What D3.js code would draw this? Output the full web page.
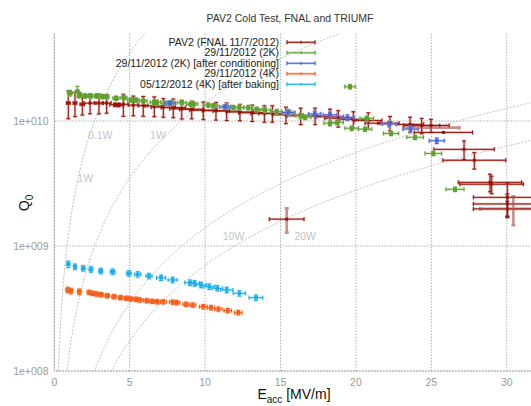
<!DOCTYPE html>
<html>
<head>
<meta charset="utf-8">
<script src="https://cdnjs.cloudflare.com/ajax/libs/d3/7.8.5/d3.min.js"></script>
<style>
  body { margin: 0; background: #fff; }
  svg { display: block; font-family: 'Liberation Sans', Arial, sans-serif; }
</style>
</head>
<body>
<svg id="chart" width="531" height="406"></svg>
<script>
// rows: [Eacc (MV/m), Q0, dEacc, relative dQ0]
const pav2Fnal = [
  [0.93, 1.39e10, 0.12, 0.25], [1.37, 1.39e10, 0.12, 0.22], [1.86, 1.36e10, 0.15, 0.18],
  [2.37, 1.39e10, 0.4, 0.18], [2.96, 1.39e10, 0.3, 0.18], [3.47, 1.39e10, 0.3, 0.17],
  [4.03, 1.35e10, 0.35, 0.03], [4.25, 1.34e10, 0.3, 0.03], [4.58, 1.36e10, 0.3, 0.2],
  [5.24, 1.34e10, 0.3, 0.18], [5.90, 1.33e10, 0.3, 0.18], [6.63, 1.32e10, 0.6, 0.18],
  [7.23, 1.29e10, 0.8, 0.17], [7.89, 1.28e10, 0.8, 0.17], [8.45, 1.25e10, 0.8, 0.17],
  [9.11, 1.24e10, 0.8, 0.16], [9.88, 1.22e10, 0.9, 0.16], [10.72, 1.21e10, 0.9, 0.16],
  [11.43, 1.20e10, 0.9, 0.16], [12.31, 1.18e10, 0.9, 0.15], [13.13, 1.165e10, 0.9, 0.15],
  [13.93, 1.15e10, 0.9, 0.15], [14.46, 1.15e10, 0.9, 0.15], [15.36, 1.12e10, 0.9, 0.15],
  [16.34, 1.10e10, 0.9, 0.15], [17.29, 1.10e10, 0.9, 0.15], [18.28, 1.08e10, 0.9, 0.15],
  [18.83, 1.05e10, 0.9, 0.15], [19.83, 1.03e10, 0.9, 0.15], [20.82, 1.01e10, 0.9, 0.15],
  [21.49, 9.6e9, 0.88, 0], [22.26, 9.6e9, 0.6, 0.13], [23.59, 9.4e9, 0.9, 0.14],
  [24.36, 9.2e9, 1.2, 0.14], [24.98, 9.2e9, 1.2, 0.12], [25.80, 8.1e9, 1.93, 0],
  [27.17, 5.93e9, 2.0, 0.17], [27.85, 4.85e9, 2.09, 0.15], [28.89, 3.23e9, 2.1, 0.16],
  [29.0, 3.12e9, 2.1, 0.16], [30.04, 2.45e9, 2.25, 0.3], [30.04, 2.17e9, 2.25, 0.2],
  [30.04, 1.98e9, 2.25, 0.15], [15.41, 1.64e9, 1.15, 0],
]
const pav2FnalFaint = [
  [15.41, 1.64e9, 0, 0.22], [25.0, 8.84e9, 1.86, 0], [30.44, 1.98e9, 2.2, 0.26],
]
const cold2K = [
  [1.04, 1.67e10, 0.15, 0.05], [1.53, 1.72e10, 0.12, 0.1], [1.70, 1.61e10, 0.12, 0.05],
  [2.04, 1.585e10, 0.15, 0.04], [2.41, 1.585e10, 0.15, 0.04], [2.81, 1.585e10, 0.15, 0.04],
  [3.18, 1.565e10, 0.15, 0.04], [3.47, 1.565e10, 0.15, 0.04], [4.09, 1.52e10, 0.2, 0.04],
  [4.62, 1.535e10, 0.2, 0.04], [5.07, 1.47e10, 0.2, 0.04], [5.42, 1.47e10, 0.2, 0.04],
  [5.90, 1.445e10, 0.25, 0.04], [6.61, 1.41e10, 0.25, 0.04], [6.79, 1.41e10, 0.25, 0.04],
  [7.39, 1.385e10, 0.25, 0.04], [7.79, 1.40e10, 0.25, 0.04], [8.45, 1.40e10, 0.3, 0.04],
  [9.06, 1.36e10, 0.3, 0.04], [9.22, 1.37e10, 0.3, 0.04], [10.21, 1.34e10, 0.3, 0.04],
  [10.54, 1.32e10, 0.3, 0.04], [11.43, 1.30e10, 0.3, 0.04], [11.87, 1.28e10, 0.3, 0.04],
  [12.27, 1.28e10, 0.3, 0.04], [12.86, 1.28e10, 0.3, 0.04], [13.42, 1.24e10, 0.35, 0.04],
  [13.97, 1.225e10, 0.35, 0.04], [14.75, 1.19e10, 0.35, 0.04], [15.63, 1.165e10, 0.35, 0.04],
  [16.41, 1.10e10, 0.4, 0.04], [16.63, 1.07e10, 0.4, 0.04], [18.28, 9.6e9, 0.4, 0.04],
  [18.77, 9.75e9, 0.4, 0.04], [19.61, 1.88e10, 0.35, 0.04], [19.72, 8.75e9, 0.45, 0.04],
  [20.60, 8.6e9, 0.45, 0.04], [20.72, 1.05e10, 0.45, 0.04], [22.33, 7.95e9, 0.5, 0.04],
  [23.92, 7.4e9, 0.55, 0.04], [25.13, 5.5e9, 0.55, 0.04], [26.57, 2.84e9, 0.6, 0.04],
]
const cold2KConditioned = [
  [7.67, 1.39e10, 0.35, 0.04], [11.32, 1.295e10, 0.35, 0.04], [15.5, 1.17e10, 0.4, 0.05],
  [17.27, 1.14e10, 0.4, 0.05], [18.28, 1.12e10, 0.45, 0.05], [19.44, 1.065e10, 0.45, 0.05],
  [22.2, 9.45e9, 0.45, 0.05], [23.62, 8.6e9, 0.5, 0.05], [25.36, 6.95e9, 0.5, 0.05],
]
const cold4K = [
  [0.89, 4.45e8, 0.12, 0.05], [1.11, 4.37e8, 0.12, 0.05], [1.66, 4.31e8, 0.12, 0.05],
  [2.32, 4.26e8, 0.15, 0.04], [2.55, 4.18e8, 0.15, 0.04], [2.81, 4.13e8, 0.15, 0.04],
  [3.10, 4.08e8, 0.15, 0.04], [3.51, 4.00e8, 0.15, 0.04], [3.96, 3.93e8, 0.15, 0.04],
  [4.40, 3.86e8, 0.15, 0.04], [4.80, 3.82e8, 0.15, 0.04], [5.07, 3.77e8, 0.2, 0.04],
  [5.42, 3.75e8, 0.2, 0.04], [5.68, 3.70e8, 0.2, 0.04], [6.13, 3.65e8, 0.2, 0.04],
  [6.50, 3.61e8, 0.2, 0.04], [6.83, 3.58e8, 0.2, 0.04], [7.23, 3.58e8, 0.2, 0.04],
  [7.85, 3.56e8, 0.2, 0.04], [8.12, 3.52e8, 0.2, 0.04], [8.73, 3.42e8, 0.2, 0.04],
  [9.18, 3.37e8, 0.2, 0.04], [9.88, 3.27e8, 0.25, 0.04], [10.39, 3.21e8, 0.25, 0.04],
  [10.88, 3.13e8, 0.25, 0.04], [11.50, 3.04e8, 0.25, 0.04], [12.20, 2.93e8, 0.25, 0.04],
]
const baked4K = [
  [0.93, 7.14e8, 0.1, 0.06], [1.37, 6.83e8, 0.1, 0.05], [1.92, 6.63e8, 0.12, 0.05],
  [2.43, 6.5e8, 0.12, 0.05], [3.08, 6.31e8, 0.12, 0.05], [3.87, 6.23e8, 0.15, 0.05],
  [4.95, 6.04e8, 0.15, 0.05], [5.53, 5.93e8, 0.2, 0.05], [6.28, 5.75e8, 0.2, 0.05],
  [7.08, 5.57e8, 0.3, 0.05], [7.85, 5.35e8, 0.3, 0.05], [9.0, 5.09e8, 0.35, 0.05],
  [9.29, 5.03e8, 0.35, 0.05], [9.73, 4.88e8, 0.35, 0.05], [10.28, 4.73e8, 0.35, 0.05],
  [10.81, 4.59e8, 0.35, 0.05], [11.43, 4.45e8, 0.4, 0.05], [12.27, 4.18e8, 0.4, 0.05],
  [13.37, 3.86e8, 0.45, 0.05],
]

const seriesNames = [
  'PAV2 (FNAL 11/7/2012)', '29/11/2012 (2K)', '29/11/2012 (2K) [after conditioning]',
  '29/11/2012 (4K)', '05/12/2012 (4K) [after baking]',
]
const xTicks = [0, 5, 10, 15, 20, 25, 30]
const yTicks = [1e8, 1e9, 1e10]
// constant dissipated power lines, Q0 = K * Eacc^2 / P
const powerLevels = [0.1, 1, 10, 20]
const powerK = 1.4e8
const powerLabels = [
  ['0.1W', 2.23, 7.2e9], ['1W', 6.35, 7.2e9], ['1W', 1.53, 3.25e9],
  ['10W', 11.17, 1.11e9], ['20W', 15.92, 1.11e9],
]

const svg = d3.select('#chart')
const x = d3.scaleLinear().domain([0, 32]).range([54.3, 536.9])
const y = d3.scaleLog().domain([1e8, 5e10]).range([371, 33.6])
const [plotLeft, plotRight] = x.range()
const [plotBottom, plotTop] = y.range()

svg.append('defs').append('clipPath').attr('id', 'plot')
  .append('rect')
  .attr('x', plotLeft).attr('y', plotTop)
  .attr('width', plotRight - plotLeft).attr('height', plotBottom - plotTop)

// grid
const grid = svg.append('g')
  .attr('stroke', '#a6a6a6')
  .attr('stroke-width', 0.9)
  .attr('stroke-dasharray', '1.5,1.5')
grid.selectAll('.vgrid')
  .data(xTicks.filter((d) => d > 0))
  .join('line')
  .attr('class', 'vgrid')
  .attr('x1', (d) => x(d)).attr('x2', (d) => x(d))
  .attr('y1', plotTop).attr('y2', plotBottom)
grid.selectAll('.hgrid')
  .data(yTicks.filter((d) => d > 1e8))
  .join('line')
  .attr('class', 'hgrid')
  .attr('x1', plotLeft).attr('x2', plotRight)
  .attr('y1', (d) => y(d)).attr('y2', (d) => y(d))

// border (left and bottom only)
svg.append('path')
  .attr('d', `M${plotLeft},${plotTop}V${plotBottom}H${plotRight}`)
  .attr('fill', 'none')
  .attr('stroke', '#8a8a8a')
  .attr('stroke-width', 1)
  .attr('stroke-dasharray', '2,1')

// power curves
const powerLine = d3.line().x((d) => x(d[0])).y((d) => y(d[1]))
const eSteps = d3.range(0.05, 32.01, 0.05)
svg.append('g')
  .attr('clip-path', 'url(#plot)')
  .selectAll('path')
  .data(powerLevels)
  .join('path')
  .attr('d', (p) => powerLine(eSteps.map((e) => [e, Math.max(1e6, powerK * e * e / p)])))
  .attr('fill', 'none')
  .attr('stroke', '#b4b4b4')
  .attr('stroke-width', 0.9)
  .attr('stroke-dasharray', '2,1.5')

svg.append('g')
  .selectAll('text')
  .data(powerLabels)
  .join('text')
  .attr('x', (d) => x(d[1]))
  .attr('y', (d) => y(d[2]))
  .attr('font-size', 10.5)
  .attr('fill', '#c4c4c4')
  .text((d) => d[0])

// tick labels
svg.append('g')
  .selectAll('text')
  .data(yTicks)
  .join('text')
  .attr('x', 48.5)
  .attr('y', (d) => y(d))
  .attr('dy', '0.35em')
  .attr('text-anchor', 'end')
  .attr('font-size', 10.5)
  .attr('fill', '#9a9a9a')
  .text((d) => '1e+' + String(Math.round(Math.log10(d))).padStart(3, '0'))
svg.append('g')
  .selectAll('text')
  .data(xTicks)
  .join('text')
  .attr('x', (d) => x(d))
  .attr('y', 385.5)
  .attr('text-anchor', 'middle')
  .attr('font-size', 10.5)
  .attr('fill', '#9a9a9a')
  .text((d) => d)

// axis titles
const xTitle = svg.append('text')
  .attr('x', 294)
  .attr('y', 399)
  .attr('text-anchor', 'middle')
  .attr('font-size', 14)
  .attr('fill', '#111')
xTitle.append('tspan').text('E')
xTitle.append('tspan').attr('dy', 4).attr('font-size', 10).text('acc')
xTitle.append('tspan').attr('dy', -4).text(' [MV/m]')

const yTitle = svg.append('text')
  .attr('transform', 'translate(29, 203) rotate(-90)')
  .attr('text-anchor', 'middle')
  .attr('font-size', 14)
  .attr('fill', '#111')
yTitle.append('tspan').text('Q')
yTitle.append('tspan').attr('dy', 4).attr('font-size', 10).text('0')

svg.append('text')
  .attr('x', 290)
  .attr('y', 21.5)
  .attr('text-anchor', 'middle')
  .attr('font-size', 10.5)
  .attr('fill', '#333')
  .text('PAV2 Cold Test, FNAL and TRIUMF')

// error bars
const cap = 2
const errorPath = ([e, q, de, dq]) => {
  const cx = x(e)
  const cy = y(q)
  let p = ''
  if (de > 0) {
    const x0 = x(e - de)
    const x1 = x(e + de)
    p += `M${x0},${cy}H${x1}M${x0},${cy - cap}V${cy + cap}M${x1},${cy - cap}V${cy + cap}`
  }
  if (dq > 0) {
    const y0 = y(q * (1 + dq))
    const y1 = y(q * (1 - dq))
    p += `M${cx},${y0}V${y1}M${cx - cap},${y0}H${cx + cap}M${cx - cap},${y1}H${cx + cap}`
  }
  return p
}

const series = [
  {rows: pav2Fnal, color: '#981208', halo: '#c98a86', marker: 3},
  {rows: cold2K, color: '#5f9f30', halo: '#b2d69a', marker: 4},
  {rows: cold2KConditioned, color: '#4a62d6', halo: '#a7b4ec', marker: 3.5},
  {rows: cold4K, color: '#f55d1a', halo: '#fbb292', marker: 3.5},
  {rows: baked4K, color: '#17aeea', halo: '#9cdcf6', marker: 3.5},
]

const dataLayer = svg.append('g').attr('clip-path', 'url(#plot)')

dataLayer.append('g')
  .selectAll('path')
  .data(pav2FnalFaint)
  .join('path')
  .attr('d', errorPath)
  .attr('fill', 'none')
  .attr('stroke', '#b86a66')
  .attr('stroke-opacity', 0.75)
  .attr('stroke-width', 2.6)

series.forEach((s) => {
  const g = dataLayer.append('g')
  g.selectAll('.halo')
    .data(s.rows)
    .join('path')
    .attr('class', 'halo')
    .attr('d', errorPath)
    .attr('fill', 'none')
    .attr('stroke', s.halo)
    .attr('stroke-opacity', 0.6)
    .attr('stroke-width', 2.4)
  g.selectAll('.bar')
    .data(s.rows)
    .join('path')
    .attr('class', 'bar')
    .attr('d', errorPath)
    .attr('fill', 'none')
    .attr('stroke', s.color)
    .attr('stroke-width', 1)
  g.selectAll('rect')
    .data(s.rows)
    .join('rect')
    .attr('x', (d) => x(d[0]) - s.marker / 2)
    .attr('y', (d) => y(d[1]) - s.marker / 2)
    .attr('width', s.marker)
    .attr('height', s.marker)
    .attr('fill', s.color)
})

// legend
const legend = svg.append('g')
  .selectAll('g')
  .data(series)
  .join('g')
  .attr('transform', (d, i) => `translate(0, ${42.3 + i * 10.5})`)
legend.append('text')
  .attr('x', 279)
  .attr('dy', '0.35em')
  .attr('text-anchor', 'end')
  .attr('font-size', 10.5)
  .attr('fill', '#222')
  .text((d, i) => seriesNames[i])
legend.append('path')
  .attr('d', `M287,0H315M287,-2V2M315,-2V2M301,-1.5V1.5`)
  .attr('fill', 'none')
  .attr('stroke', (d) => d.halo)
  .attr('stroke-width', 2.4)
  .attr('stroke-opacity', 0.6)
legend.append('path')
  .attr('d', `M287,0H315M287,-2V2M315,-2V2M301,-1.5V1.5`)
  .attr('fill', 'none')
  .attr('stroke', (d) => d.color)
  .attr('stroke-width', 1)
</script>
</body>
</html>
